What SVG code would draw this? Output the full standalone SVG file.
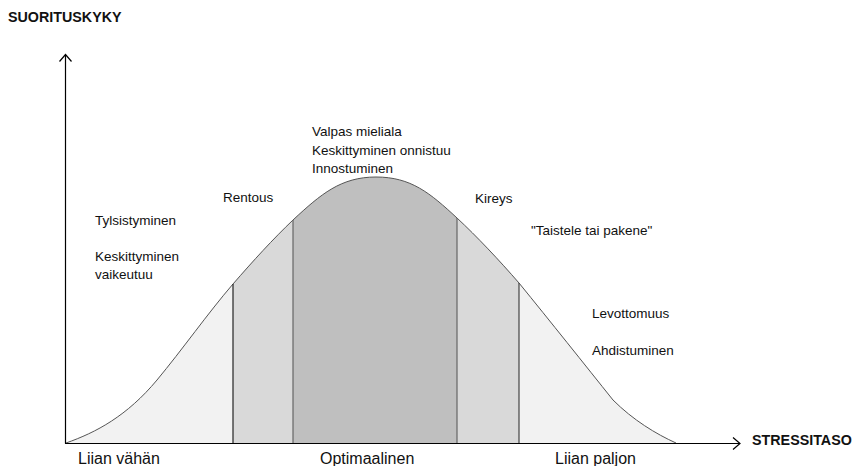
<svg xmlns="http://www.w3.org/2000/svg" width="859" height="466" viewBox="0 0 859 466">
<style>
text{font-family:"Liberation Sans",Arial,sans-serif;fill:#111}
.s{font-size:13.5px}
.b{font-size:16px}
.h{font-size:14.3px;font-weight:bold}
.ax{stroke:#000;stroke-width:1.2;fill:none}
.div{stroke-width:1.2}
</style>
<defs>
<path id="curveArea" d="M66,443 C96,432.5 127,416 157,380 C182,350 208,313 233,284 C253,261 273,239 293,220 C321,194 341,177 376,177 C411,177 430,193 457,218 C477,236.6 499,260 519,283 C550,321 585,365 613,400 C633,420 656,434 676,443 Z"/>
<clipPath id="c1"><rect x="60" y="0" width="173" height="444"/></clipPath>
<clipPath id="c2"><rect x="233" y="0" width="60" height="444"/></clipPath>
<clipPath id="c3"><rect x="293" y="0" width="164" height="444"/></clipPath>
<clipPath id="c4"><rect x="457" y="0" width="62" height="444"/></clipPath>
<clipPath id="c5"><rect x="519" y="0" width="170" height="444"/></clipPath>
</defs>
<g id="regions">
<use href="#curveArea" fill="#f2f2f2" clip-path="url(#c1)"/>
<use href="#curveArea" fill="#d9d9d9" clip-path="url(#c2)"/>
<use href="#curveArea" fill="#bfbfbf" clip-path="url(#c3)"/>
<use href="#curveArea" fill="#d9d9d9" clip-path="url(#c4)"/>
<use href="#curveArea" fill="#f2f2f2" clip-path="url(#c5)"/>
</g>
<g id="curve">
<path d="M66,443 C96,432.5 127,416 157,380 C182,350 208,313 233,284 C253,261 273,239 293,220 C321,194 341,177 376,177 C411,177 430,193 457,218 C477,236.6 499,260 519,283 C550,321 585,365 613,400 C633,420 656,434 676,443" fill="none" stroke="#555" stroke-width="1"/>
</g>
<g id="dividers">
<line class="div" x1="233" y1="284" x2="233" y2="443" stroke="#222"/>
<line class="div" x1="293" y1="220" x2="293" y2="443" stroke="#666"/>
<line class="div" x1="457" y1="218" x2="457" y2="443" stroke="#666"/>
<line class="div" x1="519" y1="283" x2="519" y2="443" stroke="#444"/>
</g>
<g id="axes">
<line class="ax" x1="65.5" y1="55" x2="65.5" y2="443.5"/>
<polyline class="ax" points="59.5,61.5 65.5,54.5 71.5,61.5"/>
<line class="ax" x1="65" y1="443.5" x2="740" y2="443.5"/>
<polyline class="ax" points="733,437.5 740,443.5 733,449.5"/>
</g>
<g id="labels">
<text class="h" x="8" y="22">SUORITUSKYKY</text>
<text class="h" x="752" y="445">STRESSITASO</text>
<text class="s" x="312" y="136">Valpas mieliala</text>
<text class="s" x="312" y="155">Keskittyminen onnistuu</text>
<text class="s" x="312" y="173">Innostuminen</text>
<text class="s" x="223" y="202">Rentous</text>
<text class="s" x="475" y="203">Kireys</text>
<text class="s" x="95" y="225">Tylsistyminen</text>
<text class="s" x="95" y="261">Keskittyminen</text>
<text class="s" x="95" y="279">vaikeutuu</text>
<text class="s" x="531" y="235">"Taistele tai pakene"</text>
<text class="s" x="592" y="318">Levottomuus</text>
<text class="s" x="592" y="355">Ahdistuminen</text>
<text class="b" x="78" y="464">Liian vähän</text>
<text class="b" x="320" y="464">Optimaalinen</text>
<text class="b" x="555" y="464">Liian paljon</text>
</g>
</svg>
